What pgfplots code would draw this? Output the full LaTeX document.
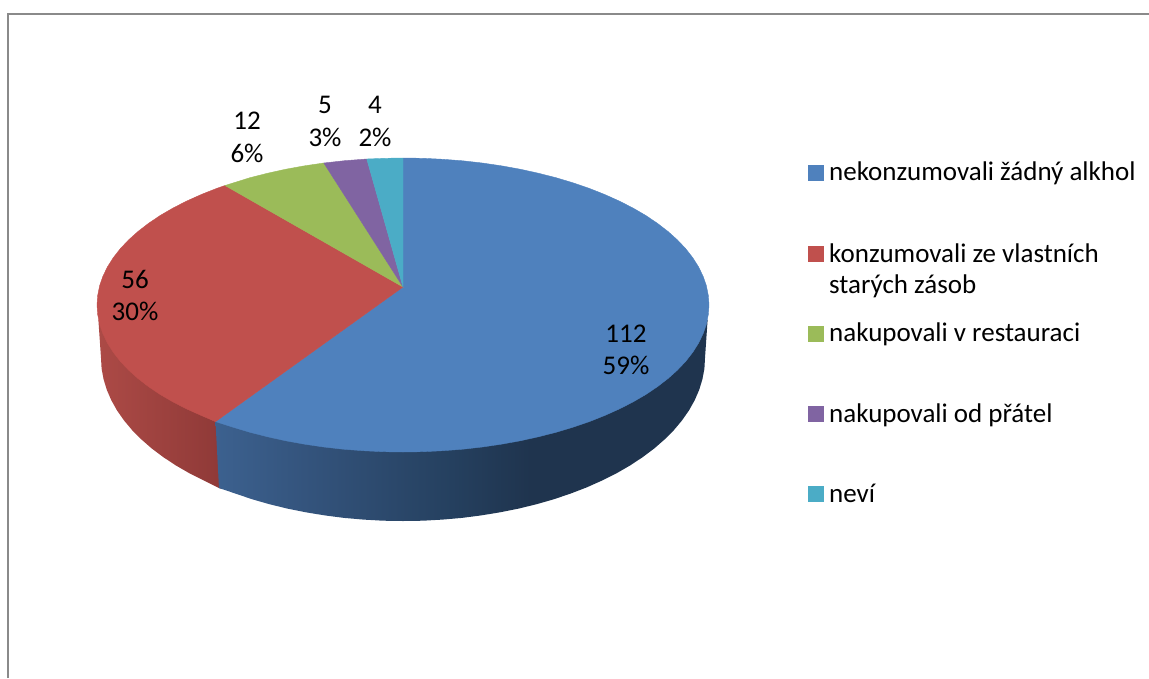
\documentclass[border=0pt]{standalone}
\usepackage{fontspec}
\setmainfont{Carlito}
\usepackage{pgfplots}
\pgfplotsset{compat=1.18}

\definecolor{sliceblue}{HTML}{4F81BD}
\definecolor{slicered}{HTML}{C0504D}
\definecolor{slicegreen}{HTML}{9BBB59}
\definecolor{slicepurple}{HTML}{8064A2}
\definecolor{sliceteal}{HTML}{4BACC6}
\definecolor{framegray}{HTML}{8A8A8A}
\definecolor{bsa}{HTML}{3C618F}
\definecolor{bsb}{HTML}{34547D}
\definecolor{bsc}{HTML}{25405F}
\definecolor{bsd}{HTML}{1F344E}
\definecolor{rsa}{HTML}{AC4A46}
\definecolor{rsb}{HTML}{8E3937}

% side wall shading, the path's box spans 25bp to 75bp
\pgfdeclarehorizontalshading{blueside}{100bp}{
  color(0bp)=(bsa); color(25bp)=(bsa); color(34bp)=(bsb);
  color(49bp)=(bsc); color(57bp)=(bsd); color(100bp)=(bsd)}
\pgfdeclarehorizontalshading{redside}{100bp}{
  color(0bp)=(rsa); color(25bp)=(rsa); color(75bp)=(rsb); color(100bp)=(rsb)}

\tikzset{lab/.style={font=\fontsize{27}{32}\selectfont,text=black,inner sep=0pt}}

\begin{document}
\begin{tikzpicture}
\begin{axis}[
  scale only axis,width=1149pt,height=678pt,
  xmin=0,xmax=1149,ymin=0,ymax=678,y dir=reverse,
  axis line style={draw=none},ticks=none]

% frame
\addplot[framegray,line width=2pt] coordinates {(8,678)(8,13.5)(1149,13.5)};

% side walls
\addplot[draw=none,shading=redside] coordinates {
  (225,425)(222,489)(219,488)(203.9,480.5)(189.5,473.3)(176,465.5)(163.4,457.2)(151.9,448.6)
  (141.5,439.5)(132.1,430.1)(124,420.4)(117,410.4)(111.3,400.2)(106.8,389.8)(103.6,379.3)
  (101.6,368.7)(101,358)(98.4,320)} -- cycle;
\addplot[draw=none,shading=blueside] coordinates {
  (707.6,320)(705,358)(704.4,368.7)(702.4,379.3)(699.2,389.8)(694.7,400.2)(689,410.4)(682,420.4)
  (673.9,430.1)(664.5,439.5)(654.1,448.6)(642.6,457.2)(630,465.5)(616.5,473.3)(602.1,480.5)
  (586.9,487.3)(570.8,493.5)(554,499.2)(536.6,504.2)(518.6,508.6)(500.1,512.3)(481.2,515.4)
  (461.9,517.9)(442.4,519.6)(422.8,520.7)(403,521)(383.2,520.7)(363.6,519.6)(344.1,517.9)
  (324.8,515.4)(305.9,512.3)(287.4,508.6)(269.4,504.2)(252,499.2)(235.2,493.5)(219,488)
  (215.5,421.6)} -- cycle;

% top face
\addplot[draw=sliceblue,line width=0.4pt,fill=sliceblue] coordinates {
  (403,287)(403,158)(423,158.3)(442.9,159.3)(462.7,160.8)(482.2,163)(501.3,165.8)(520.1,169.2)
  (538.3,173.2)(556,177.7)(573,182.8)(589.3,188.4)(604.7,194.5)(619.4,201.1)(633.1,208.1)
  (645.8,215.5)(657.4,223.3)(668,231.5)(677.5,240)(685.7,248.7)(692.8,257.8)(698.6,267)
  (703.1,276.3)(706.4,285.8)(708.3,295.4)(709,305)(708.3,314.6)(706.4,324.2)(703.1,333.7)
  (698.6,343)(692.8,352.2)(685.7,361.3)(677.5,370)(668,378.5)(657.4,386.7)(645.8,394.5)
  (633.1,401.9)(619.4,408.9)(604.7,415.5)(589.3,421.6)(573,427.2)(556,432.3)(538.3,436.8)
  (520.1,440.8)(501.3,444.2)(482.2,447)(462.7,449.2)(442.9,450.7)(423,451.7)(403,452)
  (383,451.7)(363.1,450.7)(343.3,449.2)(323.8,447)(304.7,444.2)(285.9,440.8)(267.7,436.8)
  (250,432.3)(233,427.2)(215.5,421.6)} -- cycle;
\addplot[draw=slicered,line width=0.4pt,fill=slicered] coordinates {
  (403,287)(215.5,421.6)(201.3,415.5)(186.6,408.9)(172.9,401.9)(160.2,394.5)(148.6,386.7)
  (138,378.5)(128.5,370)(120.3,361.3)(113.2,352.2)(107.4,343)(102.9,333.7)(99.6,324.2)
  (97.7,314.6)(97,305)(97.7,295.4)(99.6,285.8)(102.9,276.3)(107.4,267)(113.2,257.8)
  (120.3,248.7)(128.5,240)(138,231.5)(148.6,223.3)(160.2,215.5)(172.9,208.1)(186.6,201.1)
  (201.3,194.5)(216.7,188.4)(225,185.5)} -- cycle;
\addplot[draw=slicegreen,line width=0.4pt,fill=slicegreen] coordinates {
  (403,287)(225,185.5)(250,177.7)(267.7,173.2)(285.9,169.2)(304.7,165.8)(323.8,163)} -- cycle;
\addplot[draw=slicepurple,line width=0.4pt,fill=slicepurple] coordinates {
  (403,287)(323.8,163)(344.6,160.7)(366.8,159)} -- cycle;
\addplot[draw=sliceteal,line width=0.4pt,fill=sliceteal] coordinates {
  (403,287)(366.8,159)(384.9,158.3)(403,158)} -- cycle;

% legend keys
\addplot[only marks,mark=square*,mark size=7.5pt,mark options={draw=sliceblue,fill=sliceblue,line width=0pt}] coordinates {(815.5,172.5)};
\addplot[only marks,mark=square*,mark size=7.5pt,mark options={draw=slicered,fill=slicered,line width=0pt}] coordinates {(815.5,253.5)};
\addplot[only marks,mark=square*,mark size=7.5pt,mark options={draw=slicegreen,fill=slicegreen,line width=0pt}] coordinates {(815.5,333.5)};
\addplot[only marks,mark=square*,mark size=7.5pt,mark options={draw=slicepurple,fill=slicepurple,line width=0pt}] coordinates {(815.5,414)};
\addplot[only marks,mark=square*,mark size=7.5pt,mark options={draw=sliceteal,fill=sliceteal,line width=0pt}] coordinates {(815.5,494)};

% legend text
\node[lab,anchor=base west] at (axis cs:829,180) {nekonzumovali žádný alkhol};
\node[lab,anchor=base west] at (axis cs:829,262) {konzumovali ze vlastních};
\node[lab,anchor=base west] at (axis cs:829,293) {starých zásob};
\node[lab,anchor=base west] at (axis cs:829,341) {nakupovali v restauraci};
\node[lab,anchor=base west] at (axis cs:829,422) {nakupovali od přátel};
\node[lab,anchor=base west] at (axis cs:829,502) {neví};

% data labels
\node[lab,anchor=base] at (axis cs:626,342) {112};
\node[lab,anchor=base] at (axis cs:626,374) {59\%};
\node[lab,anchor=base] at (axis cs:135,288) {56};
\node[lab,anchor=base] at (axis cs:135,320) {30\%};
\node[lab,anchor=base] at (axis cs:247,129) {12};
\node[lab,anchor=base] at (axis cs:247,162) {6\%};
\node[lab,anchor=base] at (axis cs:325,113) {5};
\node[lab,anchor=base] at (axis cs:325,146) {3\%};
\node[lab,anchor=base] at (axis cs:375,113) {4};
\node[lab,anchor=base] at (axis cs:375,146) {2\%};
\end{axis}
\end{tikzpicture}
\end{document}
